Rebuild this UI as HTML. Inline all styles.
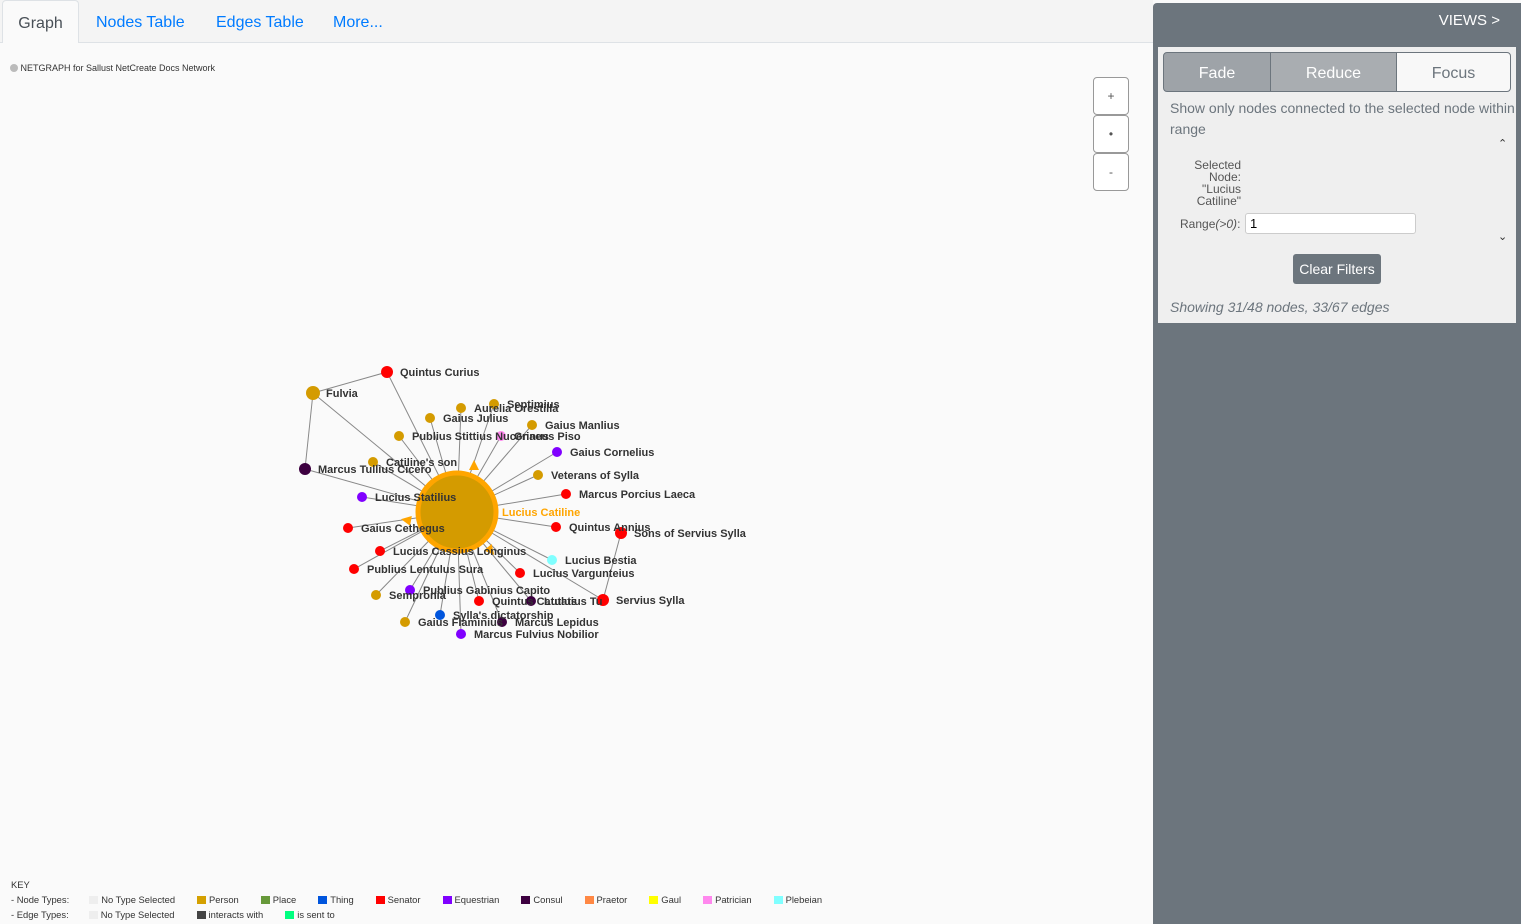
<!DOCTYPE html>
<html><head><meta charset="utf-8">
<style>
body{margin:0;width:1521px;height:924px;overflow:hidden;background:#fafafa;font-family:"Liberation Sans",sans-serif;position:relative}
.tabs{position:absolute;left:0;top:0;width:1153px;height:42px;background:#f4f4f4;border-bottom:1px solid #dee2e6}
.tab{position:absolute;top:0;height:42px;line-height:46px;font-size:16px;color:#007bff}
.tab.active{background:#fafafa;color:#495057;border:1px solid #dee2e6;border-bottom:none;border-radius:4px 4px 0 0;left:2px;width:75px;text-align:center}
.zbtn{position:absolute;left:1093px;width:34px;height:36px;border:1px solid #999;border-radius:4px;background:#fff;text-align:center;line-height:36px;font-size:12px;color:#555}
.side{position:absolute;left:1153px;top:3px;width:368px;height:921px;background:#6c757d;border-radius:4px 0 0 0}
.inner{position:absolute;left:5px;top:44px;width:358px;height:276px;background:#efefef}
.seg{position:absolute;top:49px;height:38px;line-height:42px;text-align:center;font-size:16px;color:#fff;background:#a9adb1;border:1px solid #6c757d}
.key{position:absolute;font-size:9.4px;color:#333}
.sw{display:inline-block;width:9px;height:8px;margin-right:3px;vertical-align:-1px}
.gp{display:inline-block;width:22px}
</style></head><body>
<div class="tabs">
<div class="tab active">Graph</div>
<div class="tab" style="left:96px">Nodes Table</div>
<div class="tab" style="left:216px">Edges Table</div>
<div class="tab" style="left:333px">More...</div>
</div>
<div style="position:absolute;left:10px;top:63px;font-size:9px;color:#333"><span style="display:inline-block;width:8px;height:8px;border-radius:50%;background:#bbb;vertical-align:-1px"></span> NETGRAPH for Sallust NetCreate Docs Network</div>
<div class="zbtn" style="top:77px">+</div>
<div class="zbtn" style="top:115px">•</div>
<div class="zbtn" style="top:153px">-</div>
<svg id="g" width="1150" height="870" style="position:absolute;left:0;top:0"></svg>
<div class="key" style="left:11px;top:879px">KEY</div>
<div class="key" style="left:11px;top:894px;white-space:nowrap">- Node Types:<span class="gp" style="width:20px"></span><span class="sw" style="background:#eee"></span>No Type Selected<span class="gp"></span><span class="sw" style="background:#d4a000"></span>Person<span class="gp"></span><span class="sw" style="background:#67993a"></span>Place<span class="gp"></span><span class="sw" style="background:#0055dd"></span>Thing<span class="gp"></span><span class="sw" style="background:#f00"></span>Senator<span class="gp"></span><span class="sw" style="background:#8000ff"></span>Equestrian<span class="gp"></span><span class="sw" style="background:#3d0040"></span>Consul<span class="gp"></span><span class="sw" style="background:#ff8844"></span>Praetor<span class="gp"></span><span class="sw" style="background:#ffff00"></span>Gaul<span class="gp"></span><span class="sw" style="background:#ff88ee"></span>Patrician<span class="gp"></span><span class="sw" style="background:#80ffff"></span>Plebeian</div>
<div class="key" style="left:11px;top:909px;white-space:nowrap">- Edge Types:<span class="gp" style="width:20px"></span><span class="sw" style="background:#eee"></span>No Type Selected<span class="gp"></span><span class="sw" style="background:#444"></span>interacts with<span class="gp"></span><span class="sw" style="background:#00ff80"></span>is sent to</div>
<div class="side">
<div style="position:absolute;right:21px;top:9px;color:#fff;font-size:15px">VIEWS &gt;</div>
<div class="inner">
<div class="seg" style="left:5px;top:5px;width:106px;border-radius:4px 0 0 4px;background:#9ea3a8">Fade</div>
<div class="seg" style="left:112px;top:5px;width:125px">Reduce</div>
<div class="seg" style="left:238px;top:5px;width:113px;background:#f8f8f8;color:#6c757d;border-radius:0 4px 4px 0">Focus</div>
<div style="position:absolute;left:12px;top:51px;width:345px;font-size:14px;line-height:21px;color:#6c757d">Show only nodes connected to the selected node within range</div>
<div style="position:absolute;left:340px;top:90px;font-size:11px;color:#333">&#8963;</div>
<div style="position:absolute;left:340px;top:183px;font-size:11px;color:#333">&#8964;</div>
<div style="position:absolute;left:30px;top:112px;width:53px;text-align:right;font-size:12px;line-height:12px;color:#555">Selected Node: "Lucius Catiline"</div>
<div style="position:absolute;left:22px;top:170px;font-size:12px;color:#555">Range<i>(&gt;0)</i>:</div>
<div style="position:absolute;left:87px;top:166px;width:165px;height:19px;background:#fff;border:1px solid #ccc;border-radius:3px;font-size:13px;line-height:19px;padding-left:4px">1</div>
<div style="position:absolute;left:135px;top:207px;width:88px;height:30px;background:#6c757d;color:#fff;border-radius:3px;font-size:14px;text-align:center;line-height:31px">Clear Filters</div>
<div style="position:absolute;left:12px;top:252px;font-size:14px;font-style:italic;color:#6c757d">Showing 31/48 nodes, 33/67 edges</div>
</div></div>
<script>
const names=["Quintus Curius","Fulvia","Aurelia Orestilla","Septimius","Gaius Julius","Gaius Manlius","Publius Stittius Nucerinus","Gnaeus Piso","Gaius Cornelius","Catiline's son","Marcus Tullius Cicero","Veterans of Sylla","Marcus Porcius Laeca","Lucius Statilius","Quintus Annius","Sons of Servius Sylla","Gaius Cethegus","Lucius Cassius Longinus","Lucius Bestia","Publius Lentulus Sura","Lucius Vargunteius","Sempronia","Publius Gabinius Capito","Quintus Catulus","Lutatius Tu","Servius Sylla","Sylla's dictatorship","Gaius Flaminius","Marcus Lepidus","Marcus Fulvius Nobilior"];
const xs=[387,313,461,494,430,532,399,501,557,373,305,538,566,362,556,621,348,380,552,354,520,376,410,479,531,603,440,405,502,461];
const ys=[372,393,408,404,418,425,436,436,452,462,469,475,494,497,527,533,528,551,560,569,573,595,590,601,601,600,615,622,622,634];
const types=["Senator","Person","Person","Person","Person","Person","Person","Patrician","Equestrian","Person","Consul","Person","Senator","Equestrian","Senator","Senator","Senator","Senator","Plebeian","Senator","Senator","Person","Equestrian","Senator","Consul","Senator","Thing","Person","Consul","Equestrian"];
const sizes=[6,7,5,5,5,5,5,5,5,5,6,5,5,5,5,6,5,5,5,5,5,5,5,5,5,6,5,5,5,5];
const extraEdges=[[1,0],[1,10],[15,25]];
const noCenter=[15];
const colors={Person:"#d49b00",Senator:"#ff0000",Equestrian:"#8000ff",Consul:"#3d0040",Patrician:"#ff88ee",Plebeian:"#80ffff",Thing:"#0055dd"};
const cx=457,cy=512;
const svg=document.getElementById('g');const NS="http://www.w3.org/2000/svg";
function mk(t,a){const e=document.createElementNS(NS,t);for(const k in a)e.setAttribute(k,a[k]);svg.appendChild(e);return e;}
names.forEach((n,i)=>{if(noCenter.includes(i))return;
const l=mk('line',{x1:cx,y1:cy,x2:xs[i],y2:ys[i],stroke:'#888','stroke-width':1});

});
extraEdges.forEach(([a,b])=>{const l=mk('line',{x1:xs[a],y1:ys[a],x2:xs[b],y2:ys[b],stroke:'#888','stroke-width':1});

});
const c=mk('circle',{cx:cx,cy:cy,r:39,fill:'#d49b00',stroke:'#ffa500','stroke-width':5});


[[474,465,180],[406,520,100],[491,551,-40]].forEach(([x,y,r])=>{const p=mk('polygon',{points:'-5,-5 5,-5 0,5',fill:'#ffa500',transform:`translate(${x},${y}) rotate(${r})`});

});
names.forEach((n,i)=>{const d=mk('circle',{cx:xs[i],cy:ys[i],r:sizes[i],fill:colors[types[i]]});

});
names.forEach((n,i)=>{const t=mk('text',{x:xs[i]+13,y:ys[i]+4,'font-size':11,'font-weight':'bold',fill:'#333','font-family':'Liberation Sans, sans-serif'});t.textContent=n;

});
const tl=mk('text',{x:502,y:516,'font-size':11,'font-weight':'bold',fill:'#ffa500','font-family':'Liberation Sans, sans-serif'});tl.textContent="Lucius Catiline";


</script>
</body></html>
